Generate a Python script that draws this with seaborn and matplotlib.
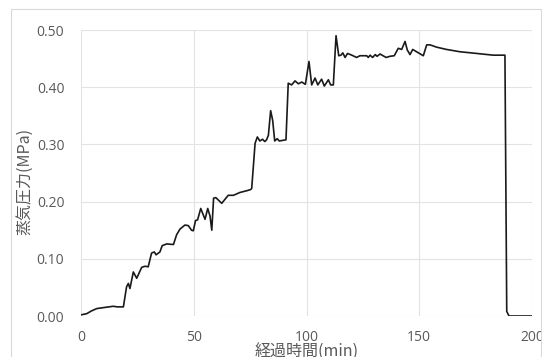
import matplotlib
matplotlib.use("Agg")
import matplotlib.pyplot as plt
from matplotlib.patches import Rectangle
import seaborn as sns
import pandas as pd

# Elapsed time (min) and steam pressure (MPa)
elapsed_min = [
    0, 2.5, 4.7, 7, 10.6, 14.3, 16, 18.8, 20.2, 21, 21.7, 23.2, 24.7, 26.9,
    28.4, 29.8, 31.3, 32.5, 33.3, 35, 36, 38, 41, 42.4, 43.9, 46.1, 47.6,
    49, 49.8, 50.8, 51.7, 53.1, 54.2, 55, 56.2, 57.2, 58, 58.8, 59.8, 62.4,
    65.3, 67.6, 70.5, 73.5, 75.2, 75.7, 77.2, 78.2, 79.3, 80.5, 81.5, 82.3,
    83.1, 84.1, 85, 85.9, 87, 87.9, 90.9, 91.9, 93.4, 94.9, 96.4, 97.9,
    99.5, 101.1, 102.3, 103.8, 105, 106.7, 107.9, 109.7, 110.7, 111.9,
    113.1, 114.3, 115.3, 116.1, 117.1, 118.2, 120.1, 122.2, 123.7, 126.7,
    127.4, 128.2, 129.3, 130.5, 131.3, 132.6, 135.3, 137, 138.9, 140.7,
    142.2, 143.7, 144.7, 145.9, 147.1, 148.8, 151.8, 153.3, 154.8, 157.7,
    162.1, 168, 175.5, 182.8, 188, 188.8, 189.8, 195, 200,
]
pressure_mpa = [
    0.002, 0.004, 0.009, 0.013, 0.015, 0.017, 0.016, 0.016, 0.051, 0.057,
    0.048, 0.077, 0.066, 0.085, 0.087, 0.086, 0.110, 0.112, 0.107, 0.112,
    0.123, 0.126, 0.125, 0.142, 0.152, 0.159, 0.158, 0.150, 0.149, 0.167,
    0.168, 0.188, 0.177, 0.169, 0.188, 0.175, 0.150, 0.206, 0.207, 0.197,
    0.211, 0.211, 0.216, 0.219, 0.221, 0.223, 0.302, 0.313, 0.306, 0.309,
    0.305, 0.308, 0.316, 0.359, 0.342, 0.306, 0.310, 0.306, 0.308, 0.407,
    0.404, 0.411, 0.406, 0.409, 0.405, 0.445, 0.404, 0.416, 0.404, 0.414,
    0.402, 0.413, 0.404, 0.404, 0.490, 0.455, 0.456, 0.460, 0.452, 0.459,
    0.456, 0.452, 0.455, 0.455, 0.452, 0.456, 0.452, 0.457, 0.454, 0.458,
    0.452, 0.454, 0.455, 0.468, 0.466, 0.480, 0.465, 0.457, 0.466, 0.462,
    0.455, 0.474, 0.474, 0.470, 0.466, 0.462, 0.459, 0.456, 0.456, 0.008,
    0.0, 0.0, 0.0,
]

x_ticks = [0, 50, 100, 150, 200]
y_ticks = [0.0, 0.1, 0.2, 0.3, 0.4, 0.5]

df = pd.DataFrame({"t": elapsed_min, "p": pressure_mpa})

sns.set_theme(style="white")
plt.rcParams["font.family"] = ["Noto Sans CJK JP", "DejaVu Sans"]

W, H = 542, 357
fig = plt.figure(figsize=(W / 100, H / 100), dpi=100)
fig.patch.set_facecolor("white")

# light chart-area frame
fig.add_artist(Rectangle((11 / W, -0.05), (541 - 11) / W, (H - 9) / H + 0.05,
                         transform=fig.transFigure, fill=False,
                         edgecolor="#d9d9d9", linewidth=0.8))

ax = fig.add_axes([81 / W, (H - 316) / H, (532 - 81) / W, (316 - 30) / H])
sns.lineplot(data=df, x="t", y="p", ax=ax, color="#1a1a1a", linewidth=1.2)

ax.set_xlim(0, 200)
ax.set_ylim(0, 0.5)
ax.set_xticks(x_ticks)
ax.set_yticks(y_ticks)
ax.set_yticklabels([f"{v:.2f}" for v in y_ticks])
ax.set_xticklabels([str(v) for v in x_ticks])
ax.grid(True, color="#e3e3e3", linewidth=0.8)
ax.set_axisbelow(True)
for s in ax.spines.values():
    s.set_visible(False)
ax.tick_params(axis="both", length=0, colors="#595959")
ax.tick_params(axis="y", pad=12)
ax.tick_params(axis="x", pad=10)
for lab in ax.get_xticklabels() + ax.get_yticklabels():
    lab.set_fontfamily(["Open Sans", "DejaVu Sans"])
    lab.set_fontsize(10)

ax.set_xlabel("経過時間(min)", fontsize=11.5, color="#595959", labelpad=-1)
ax.set_ylabel("蒸気圧力(MPa)", fontsize=11.5, color="#595959")
ax.yaxis.set_label_coords(-0.105, 0.47)

fig.savefig("out.png", dpi=100)
